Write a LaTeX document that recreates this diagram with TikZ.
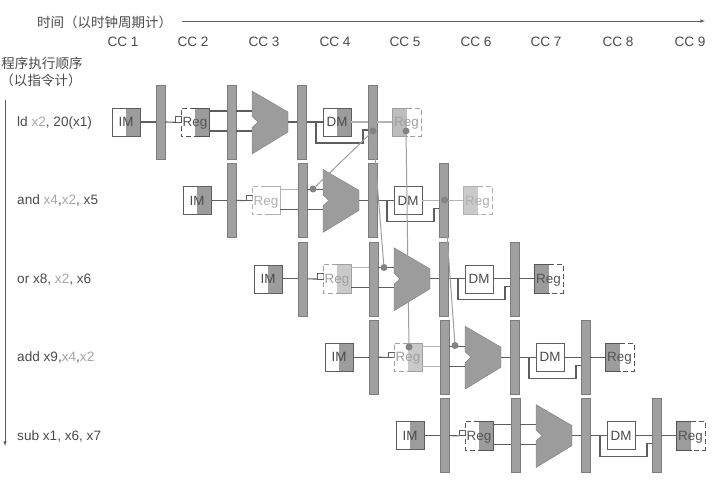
\documentclass[tikz,border=0pt]{standalone}
\usepackage{fontspec}
\setmainfont{Liberation Sans}
\newfontfamily\cjk{Noto Sans CJK SC}
\usetikzlibrary{calc}
\definecolor{ink}{HTML}{4A4A4A}
\definecolor{faded}{HTML}{A6A6A6}
\definecolor{txtdark}{HTML}{555555}
\definecolor{txtmid}{HTML}{A0A0A0}
\definecolor{txtlight}{HTML}{B0B0B0}
\definecolor{wiredark}{HTML}{5E5E5E}
\definecolor{wirelight}{HTML}{B4B4B4}
\definecolor{shadedark}{HTML}{9C9C9C}
\definecolor{shademid}{HTML}{BDBDBD}
\definecolor{shadelight}{HTML}{CACACA}
\definecolor{barfill}{HTML}{A0A0A0}
\definecolor{barline}{HTML}{7C7C7C}
\definecolor{fwd}{HTML}{9E9E9E}
\definecolor{fwddot}{HTML}{838383}
\tikzset{
    lab/.style={inner sep=0pt, text=ink, text height=9.5pt, text depth=0pt, font=\fontsize{13.6}{15}\selectfont},
    cjklab/.style={inner sep=0pt, text=ink, font=\fontsize{13.5}{15}\selectfont\cjk},
    pipebar/.style={rectangle, draw=barline, fill=barfill, minimum width=9pt, minimum height=74pt, inner sep=0pt},
    unit/.style={rectangle, minimum size=28pt, inner sep=0pt, text height=9.5pt, text depth=0pt, font=\fontsize{13.4}{15}\selectfont},
    shade right/.style={path picture={\fill[#1] (path picture bounding box.north) rectangle (path picture bounding box.south east);}},
    shade left/.style={path picture={\fill[#1] (path picture bounding box.north) rectangle (path picture bounding box.south west);}},
    port/.style={rectangle, draw=wiredark, fill=white, minimum size=5.5pt, inner sep=0pt},
    wire/.style={line width=1.1pt},
    fwdline/.style={fwd, line width=1pt},
    fwdpoint/.style={circle, fill=fwddot, minimum size=7pt, inner sep=0pt},
    alu/.pic={
        \fill[shadedark, draw=barline] (0,-31) -- (36,-10) -- (36,10) -- (0,32) -- (0,5.5) -- (6,0) -- (0,-5.5) -- cycle;
        \coordinate (-a) at (0,-11);
        \coordinate (-b) at (0,9);
        \coordinate (-o) at (36,0);
    }
}
\begin{document}
\begin{tikzpicture}[x=1pt,y=-1pt]
\useasboundingbox (0,0) rectangle (727,479);

% time axis
\node (timelab) [cjklab, anchor=west] at (37,22) {时间（以时钟周期计）};
\coordinate (tstart) at (182,21);
\coordinate (tend) at (705,21);
\draw[-latex, wiredark, line width=0.6pt] (tstart) -- (tend);
\foreach \c/\px in {1/123,2/193,3/264,4/335,5/405,6/476,7/546,8/618,9/690}
    \node (cc\c) [lab] at (\px,42) {CC \c};

% order axis
\node (ordlab) [cjklab] at (42,63) {程序执行顺序};
\node (ordsub) [cjklab] at (41,80) {（以指令计）};
\coordinate (ostart) at (5,100);
\coordinate (oend) at (5,446);
\draw[-latex, wiredark, line width=0.6pt] (ostart) -- (oend);

% instructions
\node (ins1) [lab, anchor=west] at (17,122) {ld {\color{faded}x2}, 20(x1)};
\node (ins2) [lab, anchor=west] at (17,200) {and {\color{faded}x4},{\color{faded}x2}, x5};
\node (ins3) [lab, anchor=west] at (17,278.5) {or x8, {\color{faded}x2}, x6};
\node (ins4) [lab, anchor=west] at (17,357) {add x9,{\color{faded}x4},{\color{faded}x2}};
\node (ins5) [lab, anchor=west] at (17,436) {sub x1, x6, x7};

% pipeline rows
\foreach \r/\rf/\rt/\ua/\ub/\df/\wf/\wt/\dw in {
    1/shadedark/txtdark/wiredark/wiredark/shadedark/shademid/txtmid/wirelight,
    2/white/txtlight/wirelight/wiredark/white/shadelight/txtlight/wirelight,
    3/shadelight/txtmid/wirelight/wiredark/white/shadedark/txtdark/wiredark,
    4/shadelight/txtmid/wirelight/wirelight/white/shadedark/txtdark/wiredark,
    5/shadedark/txtdark/wiredark/wiredark/white/shadedark/txtdark/wiredark}{
\begin{scope}[shift={({(\r-1)*71},{(\r-1)*78.4})}]
    \node (im\r) [unit, draw=wiredark, shade right=shadedark, text=ink] at (126,122) {IM};
    \node (bara\r) [pipebar] at (160.5,122) {};
    \node (reg\r) [unit, shade right=\rf, text=\rt] at (195,122) {Reg};
    \node (port\r) [port] at (178,119.3) {};
    \node (barb\r) [pipebar] at (231.5,122) {};
    \path pic (alu\r) at (252,122) {alu};
    \node (barc\r) [pipebar] at (302,122) {};
    \node (dm\r) [unit, draw=wiredark, shade right=\df, text=ink] at (337,122) {DM};
    \node (bard\r) [pipebar] at (372.5,122) {};
    \node (wb\r) [unit, shade left=\wf, text=\wt] at (406.5,122) {Reg};

    % box outlines
    \draw[\rt, dashed, dash pattern=on 5pt off 3pt] (reg\r.north) -- (reg\r.north west) -- (reg\r.south west) -- (reg\r.south);
    \draw[\rt] (reg\r.north) -- (reg\r.north east) -- (reg\r.south east) -- (reg\r.south);
    \draw[\wt, dashed, dash pattern=on 5pt off 3pt] (wb\r.north) -- (wb\r.north east) -- (wb\r.south east) -- (wb\r.south);
    \draw[\wt] (wb\r.north) -- (wb\r.north west) -- (wb\r.south west) -- (wb\r.south);

    % wires
    \draw[wire, wiredark] (im\r.east) -- (bara\r.west);
    \draw[wire, wiredark] (bara\r.east) -- (port\r.south west);
    \draw[wire, \ua] (alu\r-a -| reg\r.east) -- (alu\r-a -| barb\r.west);
    \draw[wire, \ub] (alu\r-b -| reg\r.east) -- (alu\r-b -| barb\r.west);
    \draw[wire, wiredark] (alu\r-a -| barb\r.east) -- (alu\r-a);
    \draw[wire, wiredark] (alu\r-b -| barb\r.east) -- (alu\r-b);
    \draw[wire, wiredark] (alu\r-o) -- (barc\r.west);
    \draw[wire, wiredark] (barc\r.east) -- (dm\r.west);
    \draw[wire, \dw] (dm\r.east) -- (bard\r.west);
    \draw[wire, \dw] (bard\r.east) -- (wb\r.west);

    % bypass round the memory
    \coordinate (tap\r) at (316,122);
    \coordinate (back\r) at (bard\r.west |- 0,130);
    \draw[wire, wiredark] (tap\r) -- (316,143) -- (363,143) -- (363,130) -- (back\r);
\end{scope}
}

% forwarding
\node (fa) [fwdpoint] at (373,131) {};
\node (fb) [fwdpoint] at (313,189) {};
\node (fc) [fwdpoint] at (384,267.5) {};
\node (fd) [fwdpoint] at (406,131) {};
\node (fe) [fwdpoint] at (409,347) {};
\node (ff) [fwdpoint] at (444.5,200) {};
\node (fg) [fwdpoint] at (455,345.5) {};
\draw[fwdline] (fa) -- (fb);
\draw[fwdline] (fa) -- (fc);
\draw[fwdline] (fd) -- (fe);
\draw[fwdline] (ff) -- (fg);
\end{tikzpicture}
\end{document}
